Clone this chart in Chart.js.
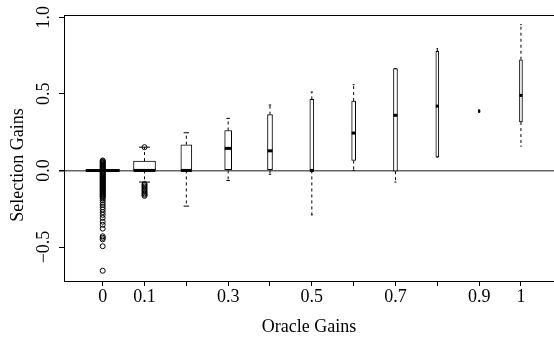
<!DOCTYPE html>
<html><head><meta charset="utf-8">
<script src="https://cdn.jsdelivr.net/npm/chart.js@4"></script>
<style>html,body{margin:0;padding:0;background:#fff;overflow:hidden}canvas{display:block}</style>
</head><body>
<canvas id="c" width="554" height="337"></canvas>
<script>
// ---- data ----
const categories = ['0','0.1','0.2','0.3','0.4','0.5','0.6','0.7','0.8','0.9','1'];
const xTickLabels = ['0','0.1','','0.3','','0.5','','0.7','','0.9','1'];
const yTickValues = [-0.5, 0, 0.5, 1.0];
const yTickLabels = ['\u22120.5','0.0','0.5','1.0'];
const xTitle = 'Oracle Gains';
const yTitle = 'Selection Gains';
const whiskerLow  = [0, -0.076, -0.233, -0.066, -0.025, -0.29, 0.0, -0.076, 0.087, 0.38, 0.159];
const q1          = [0, 0, 0, 0, 0, 0, 0.065, -0.005, 0.087, 0.38, 0.316];
const median      = [0, 0, 0, 0.144, 0.128, 0, 0.244, 0.36, 0.42, 0.387, 0.49];
const q3          = [0, 0.061, 0.168, 0.261, 0.364, 0.464, 0.453, 0.665, 0.778, 0.395, 0.723];
const whiskerHigh = [0, 0.152, 0.246, 0.34, 0.427, 0.512, 0.56, 0.665, 0.795, 0.395, 0.952];
const outliersGain0 = [0.065,0.06,0.055,0.05,0.045,0.04,0.035,0.03,0.025,0.02,0.015,0.01,0.005,
  -0.005,-0.01,-0.015,-0.02,-0.025,-0.03,-0.035,-0.04,-0.045,-0.05,-0.055,-0.06,-0.065,-0.07,-0.075,
  -0.08,-0.085,-0.09,-0.095,-0.1,-0.105,-0.11,-0.115,-0.12,-0.125,-0.13,-0.135,-0.14,-0.145,-0.15,
  -0.155,-0.16,-0.165,-0.17,-0.175,-0.185,-0.196,-0.21,-0.225,-0.24,-0.255,-0.272,-0.29,-0.31,
  -0.335,-0.355,-0.38,-0.43,-0.44,-0.45,-0.495,-0.655];
const outliersGain01 = [0.152,-0.088,-0.096,-0.105,-0.114,-0.123,-0.132,-0.141,-0.15,-0.158,-0.166];

// ---- style ----
const boxWidths = [34,22,11,7,5,4,4,4,3,2,3];
const FONT = {family:'"Liberation Serif", "Times New Roman", serif', size:18};

const datasets = [];
// whiskers (dashed)
const whiskerData = [];
categories.forEach((c,i)=>{
  whiskerData.push({x:i+1,y:q3[i]},{x:i+1,y:whiskerHigh[i]},{x:i+1,y:null});
  whiskerData.push({x:i+1,y:q1[i]},{x:i+1,y:whiskerLow[i]},{x:i+1,y:null});
});
datasets.push({type:'line',data:whiskerData,borderColor:'#000',borderWidth:1,borderDash:[3,3],
  pointRadius:0,spanGaps:false,order:10});
// boxes
categories.forEach((c,i)=>{
  datasets.push({type:'bar',data:[{x:i+1,y:[q1[i],q3[i]]}],barThickness:boxWidths[i],grouped:false,
    backgroundColor:'#fff',borderColor:'#000',borderWidth:1,borderSkipped:false,order:5});
});
// whisker caps
const capData = [], capR = [];
categories.forEach((c,i)=>{
  capData.push({x:i+1,y:whiskerHigh[i]},{x:i+1,y:whiskerLow[i]});
  capR.push(boxWidths[i]/4, boxWidths[i]/4);
});
datasets.push({type:'scatter',data:capData,pointStyle:'line',pointRadius:capR,borderColor:'#000',
  pointBorderWidth:1,order:2});
// medians
datasets.push({type:'scatter',data:categories.map((c,i)=>({x:i+1,y:median[i]})),pointStyle:'line',
  pointRadius:boxWidths.map(w=>w/2),borderColor:'#000',pointBorderWidth:3,order:1});
// outliers (open circles)
const outData = outliersGain0.map(v=>({x:1,y:v})).concat(outliersGain01.map(v=>({x:2,y:v})));
datasets.push({type:'scatter',data:outData,pointStyle:'circle',pointRadius:2.5,borderColor:'#000',
  backgroundColor:'rgba(0,0,0,0)',pointBorderWidth:1,order:0});

const frame = {id:'frame',afterDraw(chart){
  const a=chart.chartArea, ctx=chart.ctx;
  ctx.save();ctx.strokeStyle='#000';ctx.lineWidth=1;
  ctx.beginPath();ctx.moveTo(a.left,a.top+0.5);ctx.lineTo(a.right,a.top+0.5);ctx.stroke();
  // y-axis title
  ctx.fillStyle='#000';
  ctx.font = FONT.size+'px '+FONT.family;
  ctx.translate(17.8, a.top + (a.bottom-a.top)/2 + 17);
  ctx.rotate(-Math.PI/2);
  ctx.textAlign='center';ctx.textBaseline='middle';
  ctx.fillText(yTitle,0,0);
  ctx.restore();
}};

new Chart(document.getElementById('c'),{
  type:'bar',
  data:{datasets},
  plugins:[frame],
  options:{
    responsive:false,animation:false,events:[],
    layout:{autoPadding:false,padding:{top:15,right:0,left:0,bottom:0}},
    plugins:{legend:{display:false},tooltip:{enabled:false}},
    scales:{
      x:{type:'linear',position:'bottom',min:0.075,max:11.79,offset:false,
        afterBuildTicks:s=>{s.ticks=categories.map((c,i)=>({value:i+1}));},
        afterFit:s=>{s.height=56;s.paddingLeft=0;s.paddingRight=0;},
        ticks:{autoSkip:false,maxRotation:0,minRotation:0,padding:0,color:'#000',font:FONT,
          callback:(v,i)=>xTickLabels[i]},
        grid:{offset:false,drawOnChartArea:false,drawTicks:true,tickLength:5,color:'#000',lineWidth:1},
        border:{display:true,color:'#000',width:1},
        title:{display:true,text:xTitle,color:'#000',font:FONT,padding:{top:0,bottom:-1}}
      },
      y:{type:'linear',position:'left',min:-0.722,max:1.015,
        afterBuildTicks:s=>{s.ticks=yTickValues.map(v=>({value:v}));},
        afterFit:s=>{s.width=64;s.paddingTop=0;s.paddingBottom=0;},
        ticks:{minRotation:90,maxRotation:90,crossAlign:'center',padding:-2,color:'#000',font:FONT,
          callback:(v,i)=>yTickLabels[i]},
        grid:{drawOnChartArea:true,drawTicks:true,tickLength:5,tickColor:'#000',
          color:c=>(c.tick && c.tick.value===0)?'#666':'rgba(0,0,0,0)',lineWidth:c=>(c.tick && c.tick.value===0)?1.5:1},
        border:{display:true,color:'#000',width:1},
        title:{display:false,text:yTitle}
      }
    }
  }
});
</script>
</body></html>
